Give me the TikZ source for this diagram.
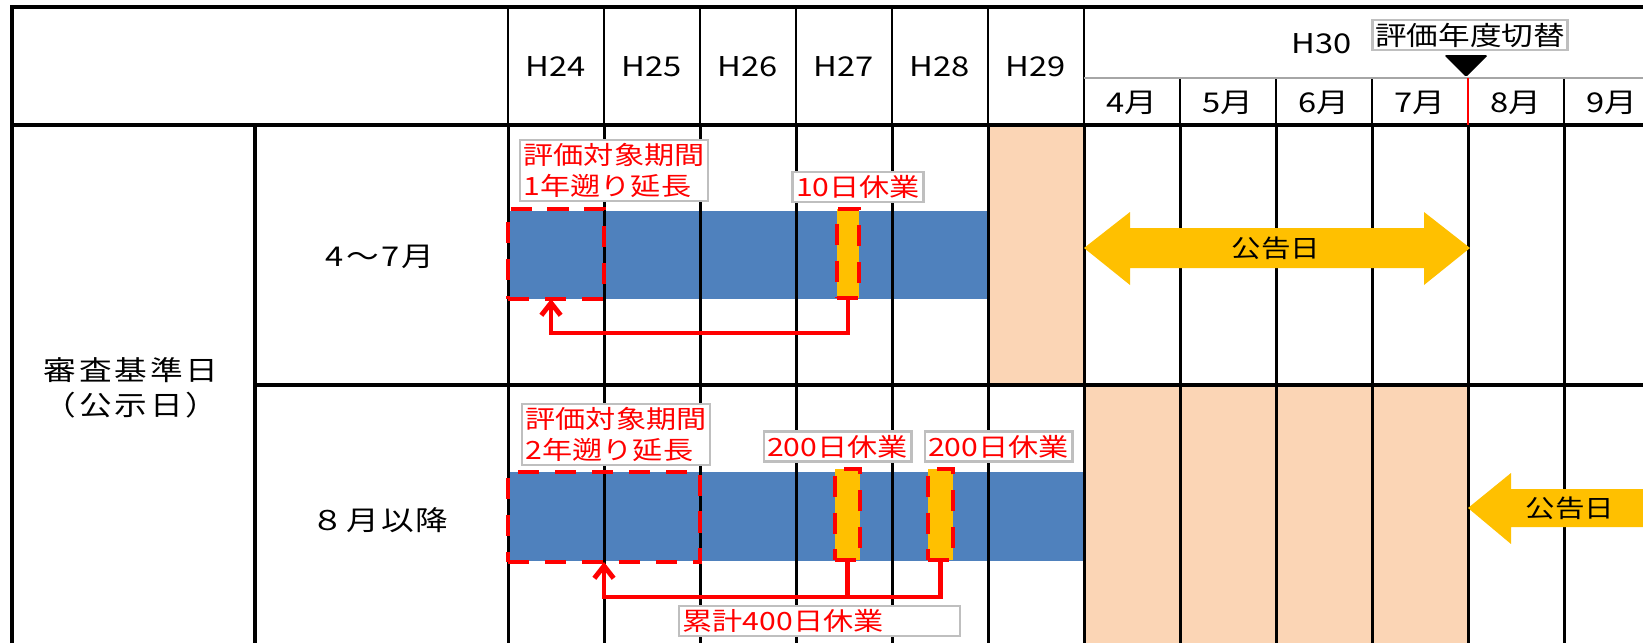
\documentclass[tikz,border=0pt]{standalone}
\usepackage{fontspec}
\setmainfont[FakeStretch=1.2]{Noto Sans CJK JP}
\usetikzlibrary{arrows.meta}
\definecolor{barblue}{HTML}{4F81BD}
\definecolor{peach}{HTML}{FBD5B5}
\definecolor{gold}{HTML}{FFC000}
\definecolor{boxgray}{HTML}{BFBFBF}
\newcommand{\pxu}{0.2mm}
\tikzset{
  frameline/.style={line width=2pt},
  gridline/.style={line width=1.7pt},
  thinline/.style={line width=1.2pt},
  hdr/.style={font=\fontsize{15.5}{18}\selectfont},
  ext/.style={draw=red, line width=2.2pt, dash pattern=on 12pt off 9pt, inner sep=0pt, outer sep=0pt},
  off/.style={fill=gold, draw=red, line width=2.2pt, dash pattern=on 12pt off 9pt, inner sep=0pt, outer sep=0pt},
  note/.style={draw=boxgray, line width=1.3pt, fill=white, text=red, inner sep=2pt, font=\fontsize{14.3}{17.5}\selectfont},
  link/.style={draw=red, line width=2.8pt},
  >={Straight Barb[length=7pt,width=11pt]}
}

\begin{document}
\begin{tikzpicture}[x=\pxu, y=-\pxu]
\useasboundingbox (0,0) rectangle (1643,643);
% shaded cells and bars
\fill[peach] (988,125) rectangle (1084,385);
\fill[peach] (1084,385) rectangle (1468,643);
\fill[barblue] (508,211) rectangle (988,299);
\fill[barblue] (508,472) rectangle (1084,561);

% table lines
\draw[frameline] (12,643) -- (12,7) -- (1643,7);
\draw[frameline] (12,125) -- (1643,125);
\draw[frameline] (255,385) -- (1643,385);
\draw[frameline] (255,125) -- (255,643);
\foreach \x in {508,604,...,1084} {
  \draw[thinline] (\x,7) -- (\x,125);
  \draw[gridline] (\x,125) -- (\x,643);
}
\foreach \x in {1180,1276,...,1564} {
  \draw[gridline] (\x,125) -- (\x,643);
}
\foreach \x in {1180,1276,1372,1564} \draw[thinline] (\x,78) -- (\x,125);
\draw[thinline, draw=gray!70] (1084,78) -- (1643,78);
\draw[red, line width=1.3pt] (1468,78) -- (1468,125);

% header
\foreach \y in {24,...,29} \node[hdr] (h\y) at ({556+96*(\y-24)},67) {H\y};
\node[hdr] (h30) at (1322,44) {H30};
\foreach \m in {4,...,9} \node[hdr] (m\m) at ({1132+96*(\m-4)},103) {\m 月};
\node[draw=boxgray, line width=1.3pt, fill=white, inner sep=1.5pt, font=\fontsize{15}{18}\selectfont] (switch) at (1470,35) {評価年度切替};
\fill[rounded corners=1pt] (1444,55) -- (1488,55) -- (1466,77) -- cycle;

% row labels
\node[align=center, font=\fontsize{15.5}{19.8}\selectfont\addfontfeature{LetterSpace=10}] (crit) at (131,388) {審査基準日\\（公示日）};
\node[hdr, font=\fontsize{15.5}{18}\selectfont\addfontfeature{LetterSpace=8}] (row1) at (380,257) {4〜7月};
\node[hdr, font=\fontsize{15.5}{18}\selectfont\addfontfeature{LetterSpace=8}] (row2) at (380,520) {８月以降};

% row 1
\node[ext, minimum width=96*\pxu, minimum height=90*\pxu] (ext1) at (556,254) {};
\node[off, minimum width=22*\pxu, minimum height=89*\pxu] (off1) at (848,253.5) {};
\node[note, anchor=north west, align=left] (lab1) at (519,139) {評価対象期間\\1年遡り延長};
\node[note] (lab2) at (858,187) {10日休業};
\coordinate (turn1) at (551,333);
\draw[link, ->] (off1.south) |- (turn1) -- (ext1.south -| turn1);
\fill[gold] (1084,248) -- (1130,212) -- (1130,228) -- (1424,228) -- (1424,212) -- (1470,248)
  -- (1424,285) -- (1424,268) -- (1130,268) -- (1130,285) -- cycle;
\node[font=\fontsize{14}{17}\selectfont] (pub1) at (1276,248) {公告日};

% row 2
\node[ext, minimum width=192*\pxu, minimum height=90*\pxu] (ext2) at (604,517) {};
\node[off, minimum width=25*\pxu, minimum height=91*\pxu] (off2) at (847.5,514.5) {};
\node[off, minimum width=25*\pxu, minimum height=91*\pxu] (off3) at (940.5,514.5) {};
\node[note, anchor=north west, align=left] (lab3) at (521,403) {評価対象期間\\2年遡り延長};
\node[note] (lab4) at (837.5,446.5) {200日休業};
\node[note] (lab5) at (998.5,446.5) {200日休業};
\coordinate (turn2) at (604,597);
\draw[link, ->] (off3.south) |- (turn2) -- (ext2.south);
\draw[link] (off2.south) -- (off2.south |- turn2);
\node[note, anchor=north west, text width=274*\pxu, align=left] (lab6) at (678,605) {累計400日休業};
\fill[gold] (1468,508) -- (1511,473) -- (1511,489) -- (1643,489) -- (1643,527) -- (1511,527)
  -- (1511,544) -- cycle;
\node[font=\fontsize{14}{17}\selectfont] (pub2) at (1570,508) {公告日};
\end{tikzpicture}
\end{document}
